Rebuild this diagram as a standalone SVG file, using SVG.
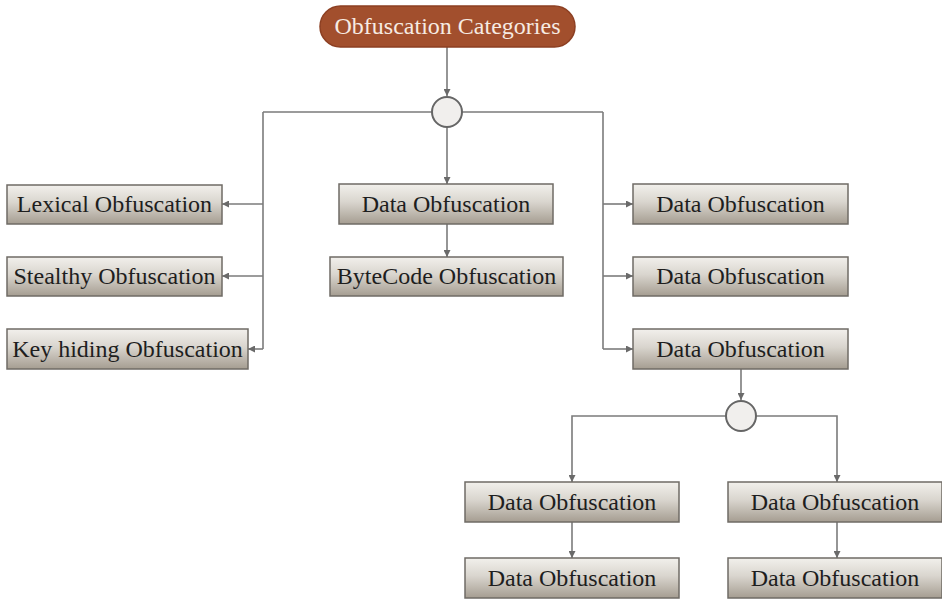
<svg xmlns="http://www.w3.org/2000/svg" width="942" height="599" viewBox="0 0 942 599">
  <style>
    .box { fill: url(#boxGrad); stroke: #6f6b65; stroke-width: 1.5; }
    .lbl { font-family: "Liberation Serif", "Times New Roman", serif; font-size: 24px; fill: #1e1e1e; text-anchor: middle; }
    .title { font-family: "Liberation Serif", "Times New Roman", serif; font-size: 24px; fill: #f6ebe3; text-anchor: middle; }
    .wire { fill: none; stroke: #7b7b7b; stroke-width: 1.6; }
    .join { fill: #f1efed; stroke: #666; stroke-width: 2; }
  </style>
  <defs>
    <linearGradient id="boxGrad" x1="0" y1="0" x2="0" y2="1">
      <stop offset="0" stop-color="#f2f0ec"/>
      <stop offset="0.45" stop-color="#d9d5ce"/>
      <stop offset="1" stop-color="#a59d91"/>
    </linearGradient>
    <marker id="arr" viewBox="0 0 10 10" refX="10" refY="5" markerWidth="7" markerHeight="7" markerUnits="userSpaceOnUse" orient="auto">
      <path d="M0,0 L10,5 L0,10 z" fill="#6a6a6a"/>
    </marker>
  </defs>

  <!-- connectors -->
  <g id="connectors">
    <path class="wire" d="M447,47 V96" marker-end="url(#arr)"/>
    <path class="wire" d="M263,112 H432 M462,112 H603"/>
    <path class="wire" d="M263,112 V349"/>
    <path class="wire" d="M263,204 H222" marker-end="url(#arr)"/>
    <path class="wire" d="M263,276 H222" marker-end="url(#arr)"/>
    <path class="wire" d="M263,349 H248" marker-end="url(#arr)"/>
    <path class="wire" d="M447,127 V184" marker-end="url(#arr)"/>
    <path class="wire" d="M447,224 V257" marker-end="url(#arr)"/>
    <path class="wire" d="M603,112 V349"/>
    <path class="wire" d="M603,204 H633" marker-end="url(#arr)"/>
    <path class="wire" d="M603,276 H633" marker-end="url(#arr)"/>
    <path class="wire" d="M603,349 H633" marker-end="url(#arr)"/>
    <path class="wire" d="M741,369 V400" marker-end="url(#arr)"/>
    <path class="wire" d="M726,416 H572 V482" marker-end="url(#arr)"/>
    <path class="wire" d="M756,416 H837 V482" marker-end="url(#arr)"/>
    <path class="wire" d="M572,522 V558" marker-end="url(#arr)"/>
    <path class="wire" d="M837,522 V558" marker-end="url(#arr)"/>
  </g>

  <!-- junctions -->
  <g id="junction-top"><circle class="join" cx="447" cy="112" r="15"/></g>
  <g id="junction-bottom"><circle class="join" cx="741" cy="416" r="15"/></g>

  <!-- root -->
  <g id="root">
    <rect x="320" y="6" width="255" height="41" rx="20.5" fill="#a24f2d" stroke="#8c3f22" stroke-width="1.5"/>
    <text class="title" x="447.5" y="34">Obfuscation Categories</text>
  </g>

  <!-- left column -->
  <g id="lexical">
    <rect class="box" x="7" y="185" width="215" height="39"/>
    <text class="lbl" x="114.5" y="212">Lexical Obfuscation</text>
  </g>
  <g id="stealthy">
    <rect class="box" x="7" y="257" width="215" height="39"/>
    <text class="lbl" x="114.5" y="284">Stealthy Obfuscation</text>
  </g>
  <g id="keyhiding">
    <rect class="box" x="7" y="329" width="241" height="40"/>
    <text class="lbl" x="127.5" y="356.5">Key hiding Obfuscation</text>
  </g>

  <!-- middle column -->
  <g id="data-mid">
    <rect class="box" x="339" y="184" width="214" height="40"/>
    <text class="lbl" x="446" y="211.5">Data Obfuscation</text>
  </g>
  <g id="bytecode">
    <rect class="box" x="330" y="257" width="233" height="39"/>
    <text class="lbl" x="446.5" y="284">ByteCode Obfuscation</text>
  </g>

  <!-- right column -->
  <g id="data-r1">
    <rect class="box" x="633" y="184" width="215" height="40"/>
    <text class="lbl" x="740.5" y="211.5">Data Obfuscation</text>
  </g>
  <g id="data-r2">
    <rect class="box" x="633" y="257" width="215" height="39"/>
    <text class="lbl" x="740.5" y="284">Data Obfuscation</text>
  </g>
  <g id="data-r3">
    <rect class="box" x="633" y="329" width="215" height="40"/>
    <text class="lbl" x="740.5" y="356.5">Data Obfuscation</text>
  </g>

  <!-- lower branches -->
  <g id="data-bl1">
    <rect class="box" x="465" y="482" width="214" height="40"/>
    <text class="lbl" x="572" y="509.5">Data Obfuscation</text>
  </g>
  <g id="data-bl2">
    <rect class="box" x="465" y="558" width="214" height="40"/>
    <text class="lbl" x="572" y="585.5">Data Obfuscation</text>
  </g>
  <g id="data-br1">
    <rect class="box" x="728" y="482" width="214" height="40"/>
    <text class="lbl" x="835" y="509.5">Data Obfuscation</text>
  </g>
  <g id="data-br2">
    <rect class="box" x="728" y="558" width="214" height="40"/>
    <text class="lbl" x="835" y="585.5">Data Obfuscation</text>
  </g>
</svg>
